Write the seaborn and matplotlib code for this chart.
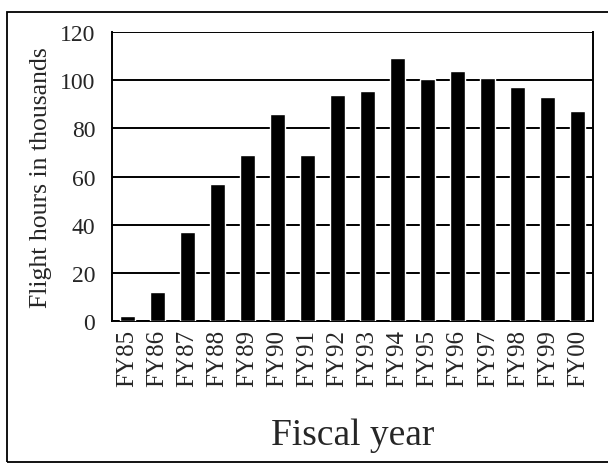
import matplotlib
matplotlib.use("Agg")
import matplotlib.pyplot as plt
import seaborn as sns
import pandas as pd
import numpy as np
from matplotlib.patches import Rectangle

# Flight hours (thousands) by fiscal year
years = ["FY85", "FY86", "FY87", "FY88", "FY89", "FY90", "FY91", "FY92",
         "FY93", "FY94", "FY95", "FY96", "FY97", "FY98", "FY99", "FY00"]
hours = [2, 12, 37, 57, 69, 86, 69, 94, 95.5, 109, 100.5, 104, 101, 97, 93, 87]
y_ticks = [0, 20, 40, 60, 80, 100, 120]

sns.set_style("white")
plt.rcParams['font.family'] = ['Liberation Serif', 'DejaVu Serif']

df = pd.DataFrame({'year': years, 'hours': hours})

fig = plt.figure(figsize=(6.08, 4.64), dpi=100)
ax = fig.add_axes([112 / 608, 1 - 322 / 464, (593 - 112) / 608, (322 - 33) / 464])

sns.barplot(data=df, x='year', y='hours', color='black', width=0.5,
            saturation=1, ax=ax, zorder=3)

ax.set_ylim(0, 120)
ax.set_xlim(-0.5, len(years) - 0.5)
ax.set_yticks(y_ticks)
ax.yaxis.grid(True, color='black', linewidth=1.4, zorder=0)
ax.set_axisbelow(True)

for s in ax.spines.values():
    s.set_visible(True)
    s.set_color('black')
    s.set_linewidth(1.4)
ax.spines['top'].set_visible(False)

# category ticks sit between bars
ax.set_xticks(np.arange(-0.5, len(years) + 0.5, 1), minor=True)
ax.tick_params(axis='x', which='major', length=0, labelsize=18, rotation=90, pad=6)
ax.tick_params(axis='x', which='minor', length=6, width=1.3, direction='out', color='black')
ax.tick_params(axis='y', which='major', length=7, width=1.3, direction='out',
               labelsize=17, color='black', pad=5)

ax.set_xlabel('Fiscal year', fontsize=27, labelpad=22)
ax.set_ylabel('Flight hours in thousands', fontsize=18.5, labelpad=6)

# outer frame of the figure
fig.patches.append(Rectangle((7 / 608, 1 - 463 / 464), 1.0, 450 / 464,
                             transform=fig.transFigure, fill=False,
                             edgecolor='black', linewidth=1.3))

fig.savefig('out.png', dpi=100)
